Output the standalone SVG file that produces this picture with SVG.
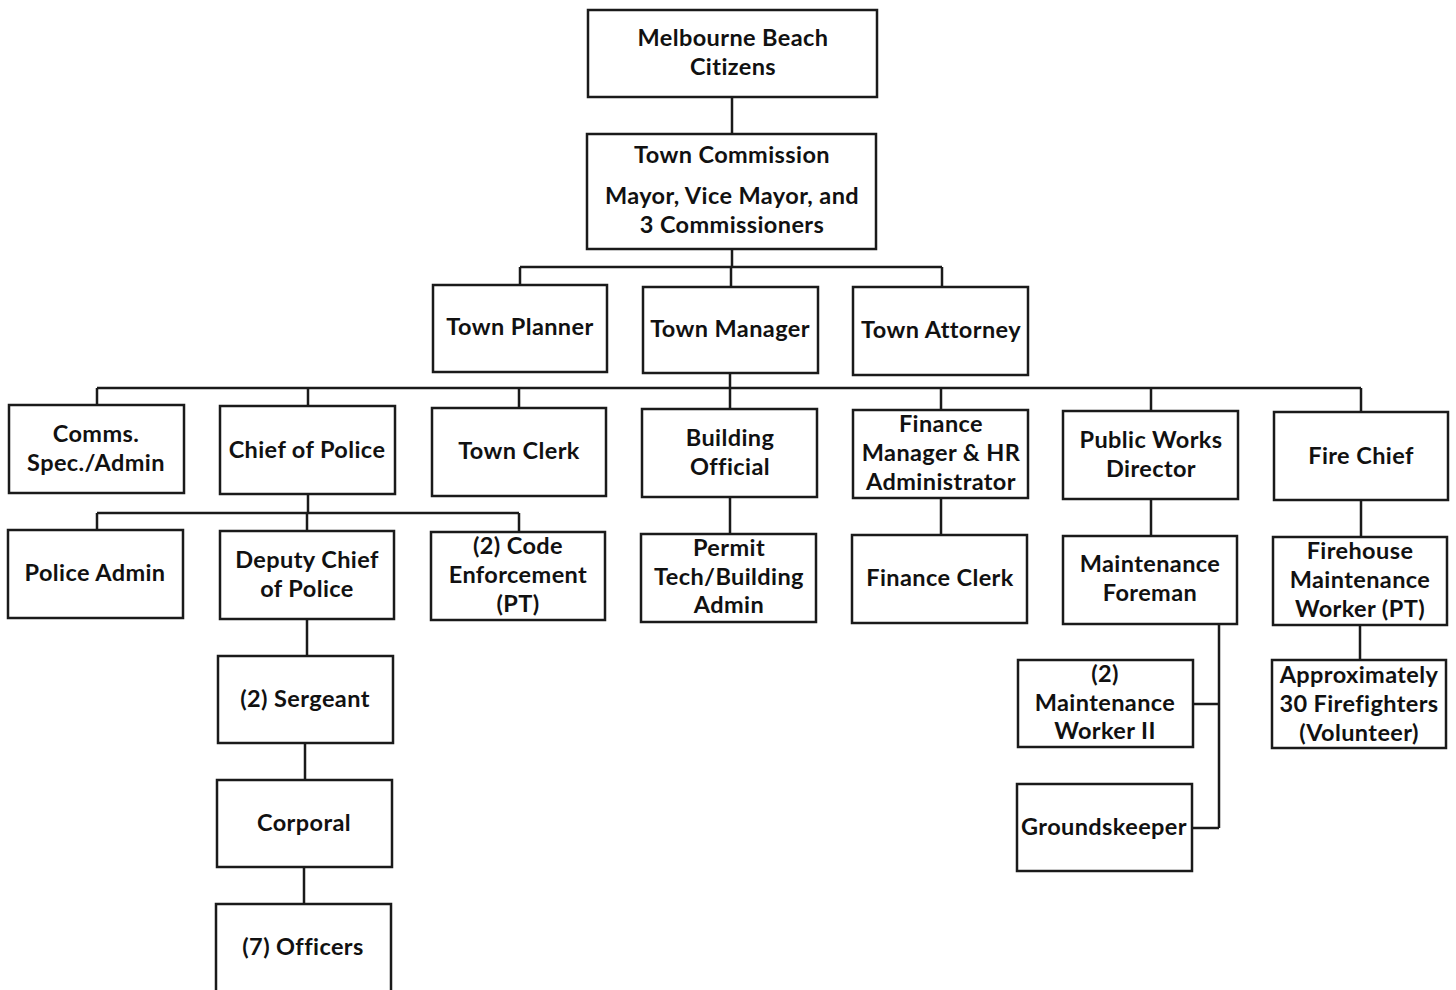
<svg xmlns="http://www.w3.org/2000/svg" width="1456" height="990" viewBox="0 0 1456 990">
<style>
.b{fill:#fff;stroke:#1a1a1a;stroke-width:2.5}
.t{font-family:Lato,"Liberation Sans",sans-serif;font-weight:bold;font-size:23.5px;letter-spacing:0.4px;fill:#111;text-anchor:middle}
.c{fill:none;stroke:#1a1a1a;stroke-width:2.5}
</style>
<rect width="1456" height="990" fill="#fff"/>
<g id="connectors">
<path class="c" d="M732 97V134M732 249V267M520 267H942M520 267V285M731 267V287M942 267V287"/>
<path class="c" d="M730 373V388M97 388H1361M97 388V405M308 388V406M519 388V408M730 388V409M941 388V410M1151 388V411M1361 388V412"/>
<path class="c" d="M308 494V513M97 513H519M97 513V530M307 513V531M519 513V532"/>
<path class="c" d="M730 497V534M941 498V535M1151 499V536M1361 500V537"/>
<path class="c" d="M307 619V656M305 743V780M304 867V904"/>
<path class="c" d="M1219 624V828M1193 704H1219M1192 828H1219M1360 625V660"/>
</g>
<g id="n-citizens"><rect class="b" x="588" y="10" width="289" height="87"/><text class="t" x="733" y="46">Melbourne Beach</text><text class="t" x="733" y="75">Citizens</text></g>
<g id="n-commission"><rect class="b" x="587" y="134" width="289" height="115"/><text class="t" x="732" y="163">Town Commission</text><text class="t" x="732" y="204">Mayor, Vice Mayor, and</text><text class="t" x="732" y="233">3 Commissioners</text></g>
<g id="n-planner"><rect class="b" x="433" y="285" width="174" height="87"/><text class="t" x="520" y="335">Town Planner</text></g>
<g id="n-manager"><rect class="b" x="643" y="287" width="175" height="86"/><text class="t" x="730" y="337">Town Manager</text></g>
<g id="n-attorney"><rect class="b" x="853" y="287" width="175" height="88"/><text class="t" x="941" y="338">Town Attorney</text></g>
<g id="n-comms"><rect class="b" x="9" y="405" width="175" height="88"/><text class="t" x="96" y="442">Comms.</text><text class="t" x="96" y="471">Spec./Admin</text></g>
<g id="n-chief"><rect class="b" x="220" y="406" width="175" height="88"/><text class="t" x="307" y="458">Chief of Police</text></g>
<g id="n-clerk"><rect class="b" x="432" y="408" width="174" height="88"/><text class="t" x="519" y="459">Town Clerk</text></g>
<g id="n-building"><rect class="b" x="642" y="409" width="175" height="88"/><text class="t" x="730" y="446">Building</text><text class="t" x="730" y="475">Official</text></g>
<g id="n-finance"><rect class="b" x="853" y="410" width="175" height="88"/><text class="t" x="941" y="432">Finance</text><text class="t" x="941" y="461">Manager &amp; HR</text><text class="t" x="941" y="490">Administrator</text></g>
<g id="n-publicworks"><rect class="b" x="1063" y="411" width="175" height="88"/><text class="t" x="1151" y="448">Public Works</text><text class="t" x="1151" y="477">Director</text></g>
<g id="n-firechief"><rect class="b" x="1274" y="412" width="174" height="88"/><text class="t" x="1361" y="464">Fire Chief</text></g>
<g id="n-policeadmin"><rect class="b" x="8" y="530" width="175" height="88"/><text class="t" x="95" y="581">Police Admin</text></g>
<g id="n-deputy"><rect class="b" x="220" y="531" width="174" height="88"/><text class="t" x="307" y="568">Deputy Chief</text><text class="t" x="307" y="597">of Police</text></g>
<g id="n-code"><rect class="b" x="431" y="532" width="174" height="88"/><text class="t" x="518" y="554">(2) Code</text><text class="t" x="518" y="583">Enforcement</text><text class="t" x="518" y="612">(PT)</text></g>
<g id="n-permit"><rect class="b" x="641" y="534" width="175" height="88"/><text class="t" x="729" y="556">Permit</text><text class="t" x="729" y="585">Tech/Building</text><text class="t" x="729" y="613">Admin</text></g>
<g id="n-financeclerk"><rect class="b" x="852" y="535" width="175" height="88"/><text class="t" x="940" y="586">Finance Clerk</text></g>
<g id="n-foreman"><rect class="b" x="1063" y="536" width="174" height="88"/><text class="t" x="1150" y="572">Maintenance</text><text class="t" x="1150" y="601">Foreman</text></g>
<g id="n-firehouse"><rect class="b" x="1273" y="537" width="174" height="88"/><text class="t" x="1360" y="559">Firehouse</text><text class="t" x="1360" y="588">Maintenance</text><text class="t" x="1360" y="617">Worker (PT)</text></g>
<g id="n-sergeant"><rect class="b" x="218" y="656" width="175" height="87"/><text class="t" x="305" y="707">(2) Sergeant</text></g>
<g id="n-corporal"><rect class="b" x="217" y="780" width="175" height="87"/><text class="t" x="304" y="831">Corporal</text></g>
<g id="n-officers"><rect class="b" x="216" y="904" width="175" height="90"/><text class="t" x="303" y="955">(7) Officers</text></g>
<g id="n-maintworker"><rect class="b" x="1018" y="660" width="175" height="87"/><text class="t" x="1105" y="682">(2)</text><text class="t" x="1105" y="711">Maintenance</text><text class="t" x="1105" y="739">Worker II</text></g>
<g id="n-groundskeeper"><rect class="b" x="1017" y="784" width="175" height="87"/><text class="t" x="1104" y="835">Groundskeeper</text></g>
<g id="n-firefighters"><rect class="b" x="1272" y="660" width="174" height="88"/><text class="t" x="1359" y="683">Approximately</text><text class="t" x="1359" y="712">30 Firefighters</text><text class="t" x="1359" y="741">(Volunteer)</text></g>
</svg>
